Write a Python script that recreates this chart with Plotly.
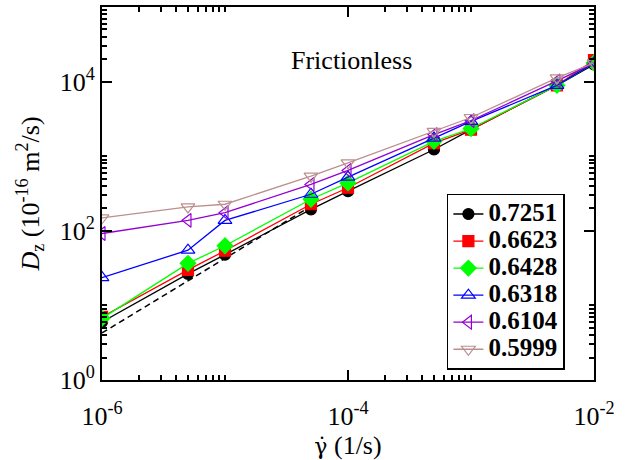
import plotly.graph_objects as go

shear_rate = [1e-6, 5e-6, 1e-5, 5e-5, 1e-4, 5e-4, 1e-3, 5e-3, 1e-2]

labels = ["0.7251", "0.6623", "0.6428", "0.6318", "0.6104", "0.5999"]
d_07251 = [6.0, 26.5, 47.9, 194, 340, 1230, 2270, 8900, 17000]
d_06623 = [7.0, 30.0, 54.0, 227, 378, 1500, 2270, 8900, 19400]
d_06428 = [6.7, 36.6, 63.0, 265, 438, 1580, 2350, 8900, 17800]
d_06318 = [23.6, 55.0, 138, 309, 525, 1750, 2930, 8900, 17800]
d_06104 = [92.0, 138, 175, 418, 644, 1950, 3000, 10200, 17800]
d_05999 = [149, 209, 227, 540, 812, 2150, 3300, 11200, 17800]
series = [d_07251, d_06623, d_06428, d_06318, d_06104, d_05999]

ref_x = [1e-6, 5e-5]
ref_y = [4.27, 213.5]

colors = ["#000000", "#ff0000", "#00ff00", "#0000ff", "#9400d3", "#bc8f8f"]
symbols = ["circle", "square", "diamond", "triangle-up-open", "triangle-left-open", "triangle-down-open"]
sizes = [11, 11, 12, 12, 12, 12]

FONT = "Times New Roman, Liberation Serif, serif"

fig = go.Figure()
fig.add_trace(go.Scatter(x=ref_x, y=ref_y, mode="lines", showlegend=False,
                         line=dict(color="black", width=1.5, dash="6px,4px")))
for name, ys, c, s, sz in zip(labels, series, colors, symbols, sizes):
    fig.add_trace(go.Scatter(
        x=shear_rate, y=ys, mode="lines+markers",
        name='<span style="font-size:25px;font-weight:bold">' + name + '</span>',
        line=dict(color=c, width=1.3),
        marker=dict(symbol=s, size=sz, color=c, line=dict(color=c, width=1.2)),
    ))

x_minor = [k * 1e-6 for k in range(2, 11)] + [k * 1e-4 for k in range(2, 11)]
y_minor = [k * 1e0 for k in range(2, 11)] + [k * 1e2 for k in range(2, 11)] + [k * 1e4 for k in range(2, 10)]

fig.update_xaxes(
    type="log", range=[-6, -2],
    tickvals=[1e-6, 1e-4, 1e-2],
    ticktext=["10<sup>-6</sup>", "10<sup>-4</sup>", "10<sup>-2</sup>"],
    ticks="inside", ticklen=10, tickwidth=2, tickcolor="black",
    showline=True, linewidth=2, linecolor="black", mirror="ticks",
    showgrid=False, zeroline=False,
    minor=dict(tickvals=x_minor, ticks="inside", ticklen=5, tickwidth=1.5, tickcolor="black", showgrid=False),
    tickfont=dict(family=FONT, size=26, color="black"),
    ticklabelstandoff=12,
    title=dict(text='<span style="font-family:DejaVu Serif;font-size:22px">γ̇</span> (1/s)',
               font=dict(family=FONT, size=26, color="black"), standoff=0),
)
fig.update_yaxes(
    type="log", range=[0, 5],
    tickvals=[1e0, 1e2, 1e4],
    ticktext=["10<sup>0</sup>", "10<sup>2</sup>", "10<sup>4</sup>"],
    ticks="inside", ticklen=10, tickwidth=2, tickcolor="black",
    showline=True, linewidth=2, linecolor="black", mirror="ticks",
    showgrid=False, zeroline=False,
    minor=dict(tickvals=y_minor, ticks="inside", ticklen=5, tickwidth=1.5, tickcolor="black", showgrid=False),
    tickfont=dict(family=FONT, size=26, color="black"),
    title=dict(text="<i>D</i><sub>z</sub> (10<sup>-16</sup> m<sup>2</sup>/s)",
               font=dict(family=FONT, size=26, color="black"), standoff=13),
)

fig.add_annotation(text="Frictionless", xref="paper", yref="paper", x=0.508, y=0.90,
                   showarrow=False, font=dict(family=FONT, size=26, color="black"))

fig.update_layout(
    width=634, height=460,
    margin=dict(l=102, r=40, t=5, b=80),
    plot_bgcolor="white", paper_bgcolor="white",
    legend=dict(x=0.701, y=0.4987, xanchor="left", yanchor="top",
                bordercolor="black", borderwidth=1.5, bgcolor="white",
                font=dict(family=FONT, size=18.5, color="black"),
                itemwidth=30, tracegroupgap=0),
)

fig.write_html("out.html")
